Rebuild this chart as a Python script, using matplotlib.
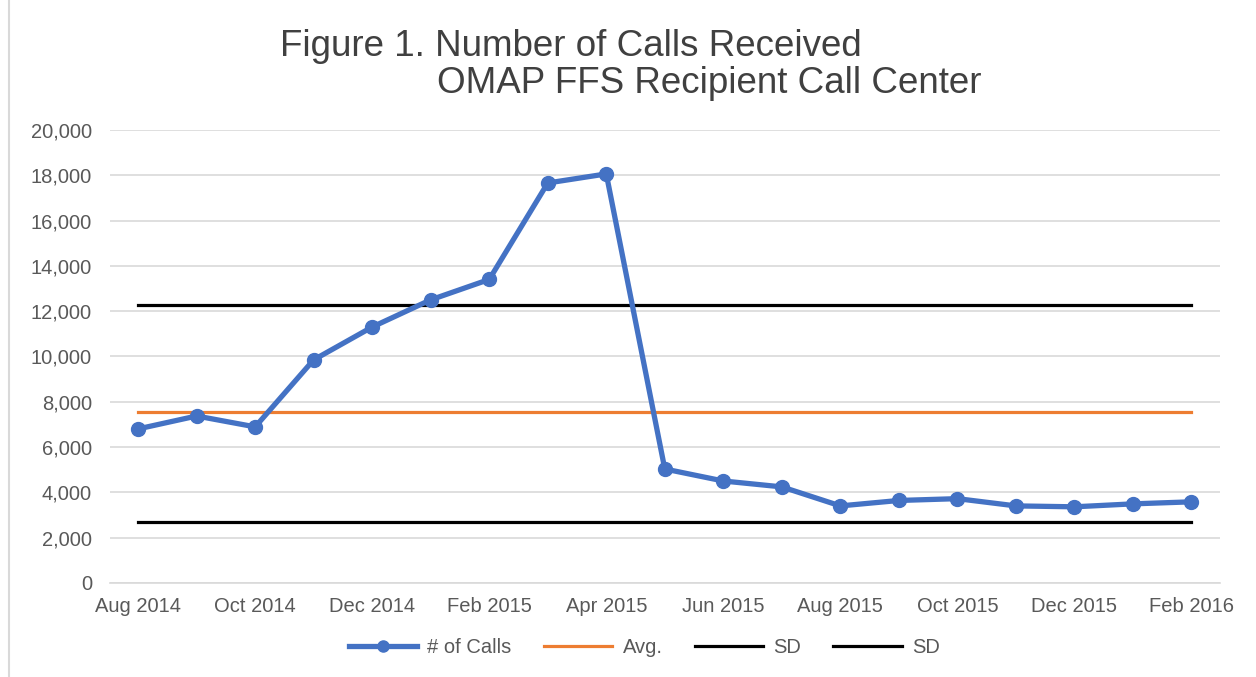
import matplotlib.pyplot as plt
from matplotlib.lines import Line2D

plt.rcParams['font.family'] = ['Liberation Sans', 'DejaVu Sans']

# monthly calls, Aug 2014 .. Feb 2016
months = ['Aug 2014', 'Sep 2014', 'Oct 2014', 'Nov 2014', 'Dec 2014', 'Jan 2015',
          'Feb 2015', 'Mar 2015', 'Apr 2015', 'May 2015', 'Jun 2015', 'Jul 2015',
          'Aug 2015', 'Sep 2015', 'Oct 2015', 'Nov 2015', 'Dec 2015', 'Jan 2016',
          'Feb 2016']
calls = [6800, 7370, 6890, 9850, 11300, 12500, 13400, 17660, 18060, 5030,
         4500, 4240, 3400, 3640, 3720, 3400, 3360, 3490, 3580]
avg = 7550
sd_high = 12270
sd_low = 2690

x = list(range(len(months)))
n = len(months)

fig = plt.figure(figsize=(12.56, 6.77), dpi=100)
ax = fig.add_axes([0.0876, 0.139, 0.8834, 0.669])

ax.plot(x, [avg] * n, color='#ED7D31', lw=2.3, label='Avg.', zorder=2)
ax.plot(x, [sd_high] * n, color='black', lw=2.3, label='SD', zorder=2)
ax.plot(x, [sd_low] * n, color='black', lw=2.3, label='SD', zorder=2)
ax.plot(x, calls, color='#4472C4', lw=3.8, marker='o', ms=10,
        label='# of Calls', zorder=3)

ax.set_xlim(-0.48, 18.48)
ax.set_ylim(0, 20000)
ax.set_yticks(range(0, 20001, 2000))
ax.set_yticklabels([f'{v:,}' for v in range(0, 20001, 2000)])
ax.set_xticks(x[::2])
ax.set_xticklabels(months[::2])
ax.grid(axis='y', color='#D9D9D9', lw=1.2)
ax.set_axisbelow(True)
for s in ['top', 'right', 'left']:
    ax.spines[s].set_visible(False)
ax.spines['bottom'].set_color('#D9D9D9')
ax.spines['bottom'].set_linewidth(1.2)
ax.tick_params(length=0, labelsize=14.5, colors='#595959')
ax.tick_params(axis='x', pad=10)
ax.tick_params(axis='y', pad=13)

fig.text(0.223, 0.932, 'Figure 1. Number of Calls Received', fontsize=26.5,
         color='#404040', va='center')
fig.text(0.348, 0.876, 'OMAP FFS Recipient Call Center', fontsize=26.5,
         color='#404040', va='center')

handles = [
    Line2D([], [], color='#4472C4', lw=3.8, marker='o', ms=8),
    Line2D([], [], color='#ED7D31', lw=2.3),
    Line2D([], [], color='black', lw=2.3),
    Line2D([], [], color='black', lw=2.3),
]
fig.legend(handles, ['# of Calls', 'Avg.', 'SD', 'SD'], loc='center',
           bbox_to_anchor=(0.513, 0.043), ncol=4, frameon=False, fontsize=14.5,
           labelcolor='#595959', handlelength=3.4, handletextpad=0.5,
           columnspacing=1.6)

fig.add_artist(Line2D([0.007, 0.007], [0, 1], color='#D9D9D9', lw=1.5,
                      transform=fig.transFigure))

fig.savefig('out.png', dpi=100)
